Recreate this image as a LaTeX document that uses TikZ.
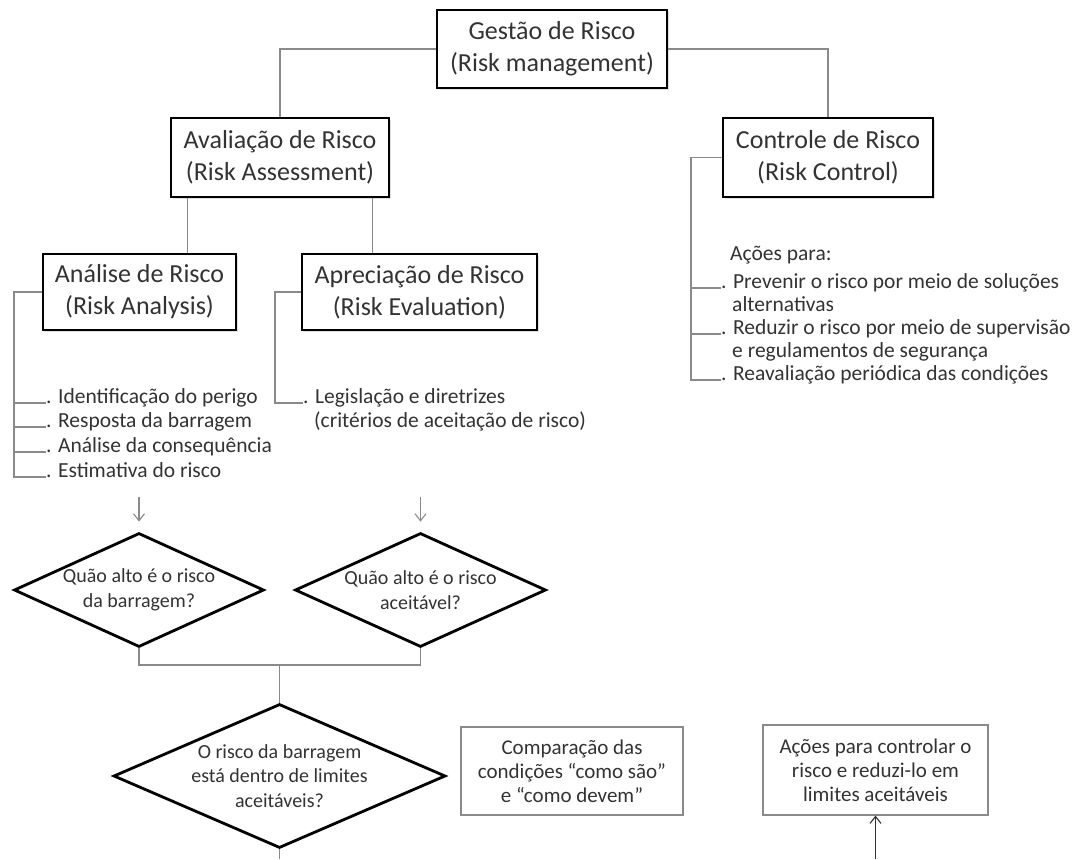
\documentclass[tikz,border=0pt]{standalone}
\usepackage{fontspec}
\setmainfont{Carlito}
\usetikzlibrary{shapes.geometric,arrows.meta,shadows}
\definecolor{ln}{HTML}{8A8A8A}
\definecolor{tx}{HTML}{333333}
\begin{document}
\begin{tikzpicture}[x=1pt,y=-1pt,
  mainbox/.style={draw=black, line width=2.8pt, fill=white, align=center, text=tx,
    font=\fontsize{26}{32}\selectfont, inner sep=0pt,
    drop shadow={shadow xshift=1.5pt,shadow yshift=-1.5pt,opacity=0.25}},
  smallbox/.style={draw=ln, line width=1.1pt, fill=white, align=center, text=tx,
    font=\fontsize{21}{24}\selectfont, inner sep=0pt},
  dia/.style={shape=diamond, draw=black, line width=2.8pt, fill=white, inner sep=0pt},
  dtxt/.style={align=center, text=tx, font=\fontsize{20}{24.5}\selectfont, inner sep=0pt},
  listtxt/.style={text=tx, font=\fontsize{21.5}{24}\selectfont, inner sep=0pt, anchor=base west},
  conn/.style={draw=ln, line width=1.1pt},
  arr/.style={draw=ln, line width=1.1pt, -{Straight Barb[length=7pt,width=11pt]}}
]
\useasboundingbox (0,0) rectangle (1073,859);
\fill[white] (0,0) rectangle (1073,859);

% main boxes
\node[mainbox, minimum width=230pt, minimum height=78pt] (gest) at (552,49) {Gestão de Risco\\(Risk management)};
\node[mainbox, minimum width=218pt, minimum height=79pt] (aval) at (280,157.5) {Avaliação de Risco\\(Risk Assessment)};
\node[mainbox, minimum width=210pt, minimum height=79pt] (ctrl) at (828,157.5) {Controle de Risco\\(Risk Control)};
\node[mainbox, minimum width=193pt, minimum height=76pt] (anal) at (139.5,292) {Análise de Risco\\(Risk Analysis)};
\node[mainbox, minimum width=235pt, minimum height=76pt] (apre) at (419.5,292) {Apreciação de Risco\\(Risk Evaluation)};

% tree connectors
\draw[conn] (gest.west) -| (aval.north);
\draw[conn] (gest.east) -| (ctrl.north);
\draw[conn] ([xshift=18pt]aval.south west) -- ([xshift=18pt]aval.south west |- anal.north);
\draw[conn] ([xshift=-18pt]aval.south east) -- ([xshift=-18pt]aval.south east |- apre.north);

% analysis list
\node[listtxt] (i1) at (46,403) {. Identificação do perigo};
\node[listtxt] (i2) at (46,427) {. Resposta da barragem};
\node[listtxt] (i3) at (46,452) {. Análise da consequência};
\node[listtxt] (i4) at (46,477) {. Estimativa do risco};
\coordinate (ab) at (14,477);
\draw[conn] (anal.west) -| (ab) -- (i4.base west);
\draw[conn] (i1.base west -| ab) -- (i1.base west);
\draw[conn] (i2.base west -| ab) -- (i2.base west);
\draw[conn] (i3.base west -| ab) -- (i3.base west);

% evaluation list
\node[listtxt] (l1) at (303,403) {. Legislação e diretrizes};
\node[listtxt] (l2) at (314,427) {(critérios de aceitação de risco)};
\coordinate (pb) at (275,403);
\draw[conn] (apre.west) -| (pb) -- (l1.base west);

% control list
\node[listtxt] (r0) at (730,260) {Ações para:};
\node[listtxt] (r1) at (721,288) {. Prevenir o risco por meio de soluções};
\node[listtxt] (r2) at (732,311) {alternativas};
\node[listtxt] (r3) at (721,334) {. Reduzir o risco por meio de supervisão};
\node[listtxt] (r4) at (732,357) {e regulamentos de segurança};
\node[listtxt] (r5) at (721,380) {. Reavaliação periódica das condições};
\coordinate (cb) at (691,380);
\draw[conn] (ctrl.west) -| (cb) -- (r5.base west);
\draw[conn] (r1.base west -| cb) -- (r1.base west);
\draw[conn] (r3.base west -| cb) -- (r3.base west);

% diamonds
\node[dia, minimum width=250pt, minimum height=114pt] (d1) at (139,590) {};
\node[dtxt] (d1t) at (d1) {Quão alto é o risco\\da barragem?};
\node[dia, minimum width=251pt, minimum height=114pt] (d2) at (420.5,590) {};
\node[dtxt] (d2t) at (d2) {Quão alto é o risco\\aceitável?};
\node[dia, minimum width=332pt, minimum height=144pt] (d3) at (279.5,776) {};
\node[dtxt] (d3t) at (d3) {O risco da barragem\\está dentro de limites\\aceitáveis?};

\coordinate (a1s) at (139,497);
\coordinate (a2s) at (420.5,497);
\draw[arr] (a1s) -- ([yshift=10pt]d1.north);
\draw[arr] (a2s) -- ([yshift=10pt]d2.north);

\coordinate (j) at (279.5,665);
\draw[conn] (d1.south) |- (j) -| (d2.south);
\draw[conn] (j) -- (d3.north);
\coordinate (bb) at (279.5,859);
\draw[conn] (d3.south) -- (bb);

% bottom boxes
\node[smallbox, minimum width=222pt, minimum height=88pt] (comp) at (572,771) {Comparação das\\condições “como são”\\e “como devem”};
\node[smallbox, minimum width=225pt, minimum height=90pt] (acoes) at (875.5,770) {Ações para controlar o\\risco e reduzi-lo em\\limites aceitáveis};
\coordinate (ae) at (875.5,859);
\draw[arr, draw=black!80] (ae) -- (acoes.south);
\end{tikzpicture}
\end{document}
